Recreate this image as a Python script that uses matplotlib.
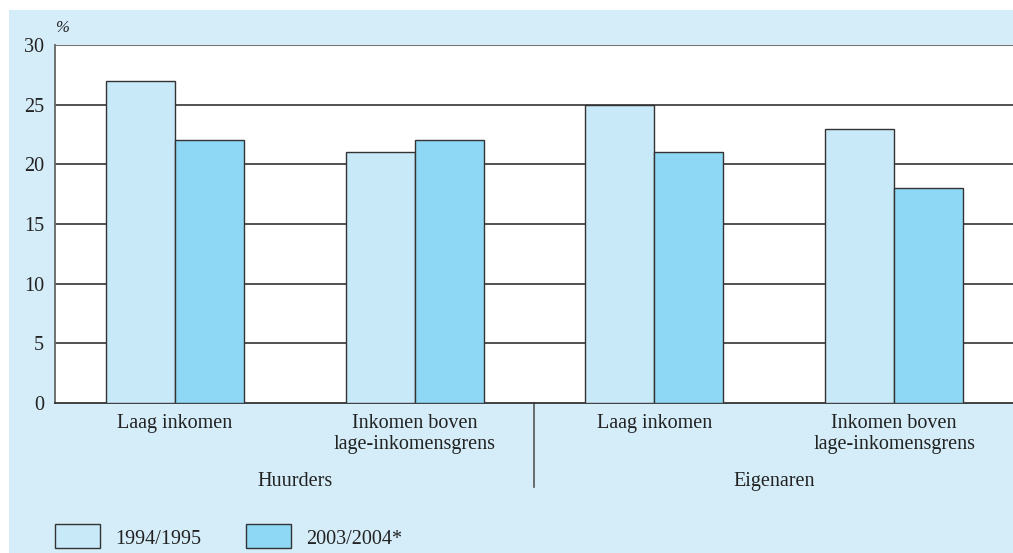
import matplotlib
matplotlib.use("Agg")
import matplotlib.pyplot as plt
from matplotlib.patches import Rectangle
from matplotlib.lines import Line2D

# data
categories = ["Laag inkomen", "Inkomen boven\nlage-inkomensgrens",
              "Laag inkomen", "Inkomen boven\nlage-inkomensgrens"]
groups = ["Huurders", "Eigenaren"]
series_names = ["1994/1995", "2003/2004*"]
vals_1994 = [27, 21, 25, 23]
vals_2003 = [22, 22, 21, 18]
yticks = [0, 5, 10, 15, 20, 25, 30]

BG = "#d5edf9"
C1 = "#c8e9f8"
C2 = "#8ed8f6"
EDGE = "#333333"
TXT = "#222222"
FS = 14.5

plt.rcParams["font.family"] = ["Liberation Serif", "DejaVu Serif"]

fig = plt.figure(figsize=(10.13, 5.53), dpi=100)
fig.patches.append(Rectangle((9 / 1013, 0), 1, 1 - 10 / 553, transform=fig.transFigure,
                             facecolor=BG, edgecolor="none", zorder=-10))

ax = fig.add_axes([55 / 1013, 1 - 403 / 553, 1 - 55 / 1013, (403 - 45) / 553])
ax.set_facecolor("white")

x = range(len(categories))
w = 0.2875
ax.bar([i - w / 2 for i in x], vals_1994, w, color=C1, edgecolor=EDGE, lw=1, zorder=3)
ax.bar([i + w / 2 for i in x], vals_2003, w, color=C2, edgecolor=EDGE, lw=1, zorder=3)

ax.set_xlim(-0.5, 3.496)
ax.set_ylim(0, 30)
ax.set_yticks(yticks)
ax.set_yticklabels([str(t) for t in yticks], fontsize=FS, color=TXT)
for t in yticks[1:-1]:
    ax.axhline(t, color=TXT, lw=1.1, zorder=1)
ax.axhline(30, color="#777777", lw=1.5, zorder=1)

ax.tick_params(axis="y", length=0, pad=8)
ax.set_xticks(list(x))
ax.set_xticklabels(categories, fontsize=FS, color=TXT, linespacing=1.1, va="top")
ax.tick_params(axis="x", length=0, pad=8)

for s in ["top", "right"]:
    ax.spines[s].set_visible(False)
ax.spines["left"].set_color("#666666")
ax.spines["left"].set_linewidth(1.3)
ax.spines["bottom"].set_color("#333333")
ax.spines["bottom"].set_linewidth(1.3)

ax.text(0.0, 1.025, "%", transform=ax.transAxes, fontsize=12, style="italic",
        color=TXT, ha="left", va="bottom")

# group separator and group labels
ax.add_line(Line2D([1.5, 1.5], [0, -7], color="#555555", lw=1.2, clip_on=False))
ax.text(0.5, -6.55, groups[0], ha="center", va="center", fontsize=FS, color=TXT)
ax.text(2.5, -6.55, groups[1], ha="center", va="center", fontsize=FS, color=TXT)

# legend
for (lx, name, c) in [(55, series_names[0], C1), (246, series_names[1], C2)]:
    fig.patches.append(Rectangle((lx / 1013, 1 - 548 / 553), 45 / 1013, 24 / 553,
                                 transform=fig.transFigure, facecolor=c,
                                 edgecolor=EDGE, lw=1))
    fig.text((lx + 60) / 1013, 1 - 539 / 553, name, fontsize=FS, color=TXT,
             ha="left", va="center")

fig.savefig("out.png", dpi=100)
